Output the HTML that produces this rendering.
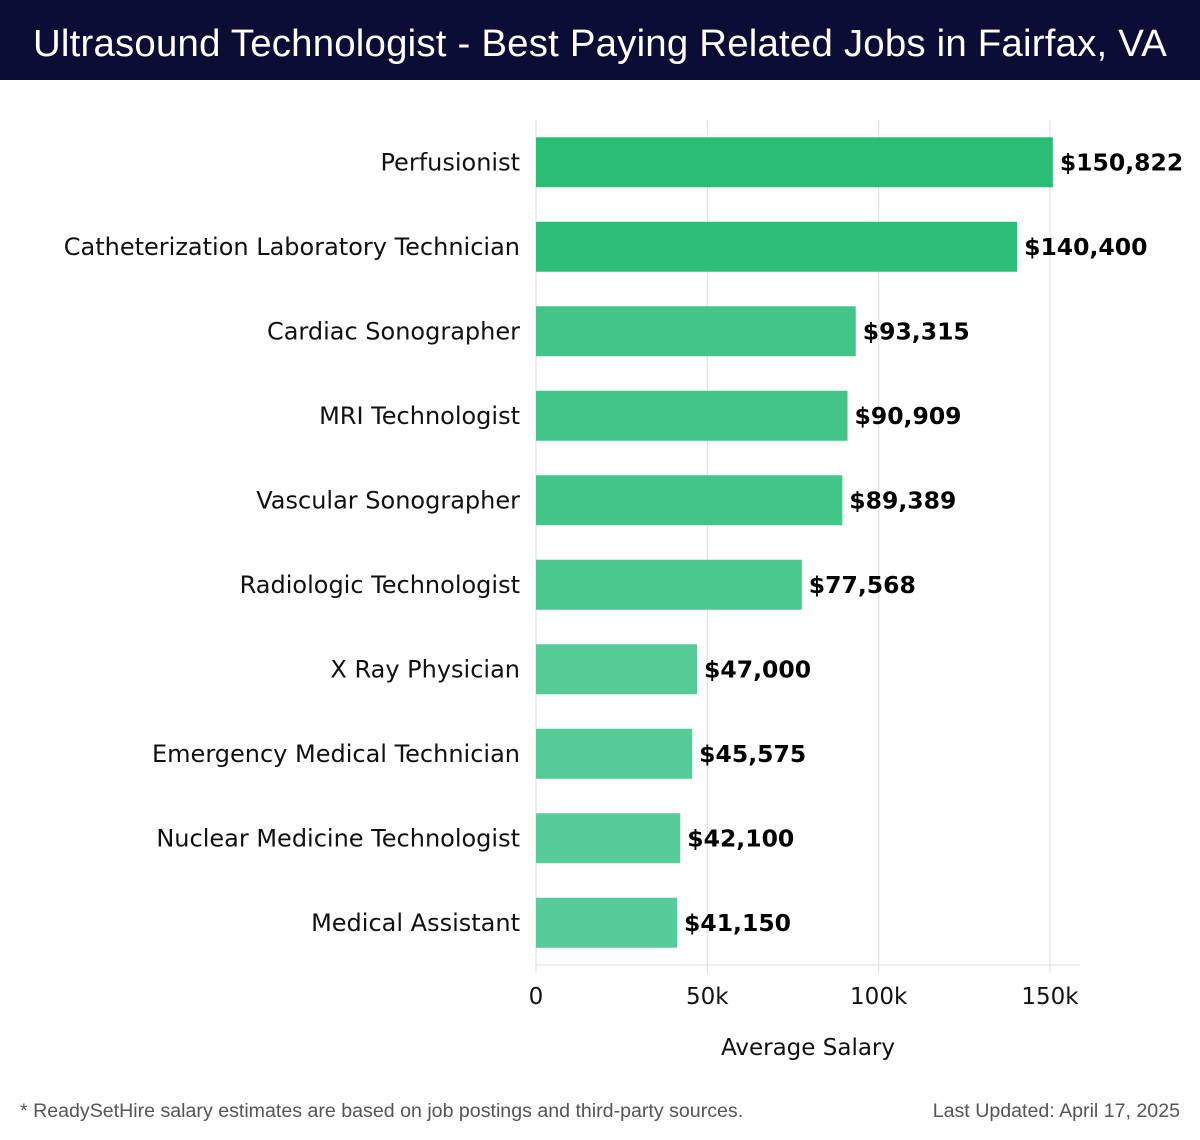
<!DOCTYPE html>
<html><head><meta charset="utf-8"><style>
body{margin:0;width:1200px;height:1140px;background:#fff;overflow:hidden;font-family:"DejaVu Sans","Liberation Sans",sans-serif}
#hdr{position:absolute;left:0;top:0;width:1200px;height:80px;background:#0c0d35;color:#fff;font-family:"Liberation Sans",sans-serif;font-size:38.4px;line-height:88px;text-align:center;letter-spacing:0.2px}
.foot{position:absolute;top:1100px;font-family:"Liberation Sans",sans-serif;font-size:19.6px;color:#555}
</style></head><body>
<div id="hdr">Ultrasound Technologist - Best Paying Related Jobs in Fairfax, VA</div>
<svg id="chart" width="1200" height="1140" style="position:absolute;left:0;top:0"></svg>
<div class="foot" style="left:20px">* ReadySetHire salary estimates are based on job postings and third-party sources.</div>
<div class="foot" style="right:20px">Last Updated: April 17, 2025</div>
<script>
const categories=["Perfusionist","Catheterization Laboratory Technician","Cardiac Sonographer","MRI Technologist","Vascular Sonographer","Radiologic Technologist","X Ray Physician","Emergency Medical Technician","Nuclear Medicine Technologist","Medical Assistant"];
const values=[150822,140400,93315,90909,89389,77568,47000,45575,42100,41150];
const tickValues=[0,50000,100000,150000];
const tickLabels=["0","50k","100k","150k"];

const NS="http://www.w3.org/2000/svg";
const svg=document.getElementById('chart');
const x0=536,pxPer=(1050-536)/150000,plotTop=120,plotBottom=965,plotRight=1080;
const band=(plotBottom-plotTop)/categories.length;
const xs=v=>x0+v*pxPer;
const yc=i=>plotTop+band*(i+0.5);
function mk(t,a){const e=document.createElementNS(NS,t);for(const k in a)e.setAttribute(k,a[k]);svg.appendChild(e);return e;}
tickValues.forEach((v,i)=>{
  const g=mk('line',{x1:xs(v),x2:xs(v),y1:plotTop,y2:plotBottom+8,stroke:'#dddddd','stroke-width':1});
  
  
  const t=mk('text',{x:xs(v),y:1004,'text-anchor':'middle','font-size':23,fill:'#111'});
  t.textContent=tickLabels[i];
  
  
});
const ax=mk('line',{x1:x0,x2:plotRight,y1:plotBottom,y2:plotBottom,stroke:'#dddddd','stroke-width':1});


const maxV=Math.max(...values),minV=Math.min(...values);
function col(v){const t=(v-minV)/(maxV-minV||1);const a=[0x58,0xcc,0x98],b=[0x2a,0xbd,0x76];return 'rgb('+a.map((c,k)=>Math.round(c+(b[k]-c)*t)).join(',')+')';}
categories.forEach((c,i)=>{
  const y=yc(i);
  const r=mk('rect',{x:x0,y:y-25,width:xs(values[i])-x0,height:50,fill:col(values[i])});
  
  
  const l=mk('text',{x:520,y:y+8,'text-anchor':'end','font-size':24,fill:'#111'});
  l.textContent=c;
  
  
  const v=mk('text',{x:xs(values[i])+7,y:y+8,'font-size':23.5,'font-weight':'bold',fill:'#000'});
  v.textContent='$'+values[i].toLocaleString('en-US');
  
  
});
const xt=mk('text',{x:808,y:1055,'text-anchor':'middle','font-size':23,fill:'#111'});
xt.textContent='Average Salary';


</script>
</body></html>
